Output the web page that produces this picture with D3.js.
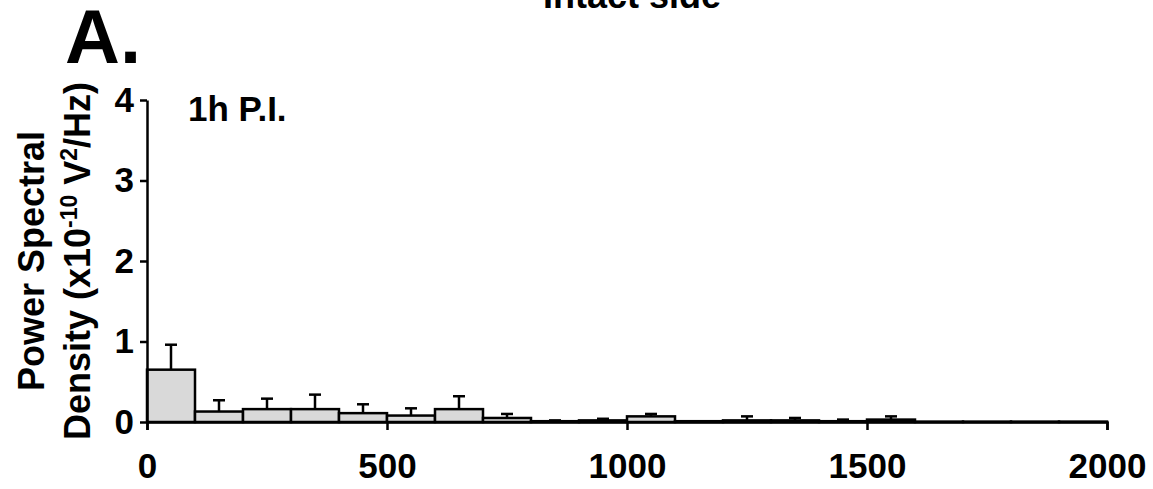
<!DOCTYPE html>
<html><head><meta charset="utf-8">
<script src="https://cdn.jsdelivr.net/npm/d3@7"></script>
<style>body{margin:0;background:#fff}svg{display:block}text{font-family:"Liberation Sans",Arial,sans-serif;font-weight:bold;fill:#000}</style>
</head><body><svg id="c" width="1153" height="489"></svg>
<script>
const binStart = [0,100,200,300,400,500,600,700,800,900,1000,1100,1200,1300,1400,1500,1600,1700,1800,1900];
const binWidth = 100;
const meanPSD = [0.65,0.13,0.16,0.16,0.11,0.08,0.16,0.05,0.01,0.02,0.07,0.01,0.02,0.02,0.01,0.03,0.005,0.005,0.005,0.005];
const semPSD  = [0.31,0.14,0.13,0.18,0.11,0.09,0.16,0.05,0.01,0.02,0.03,0.0,0.05,0.03,0.02,0.04,0,0,0,0];
const xTicks = [0,500,1000,1500,2000];
const yTicks = [0,1,2,3,4];

const svg = d3.select("#c");
const x = d3.scaleLinear().domain([0,2000]).range([147,1107]);
const y = d3.scaleLinear().domain([0,4]).range([422,100]);

// bars
svg.append("g").selectAll("rect").data(binStart).join("rect")
  .attr("x", d=>x(d)).attr("width", d=>x(d+binWidth)-x(d))
  .attr("y", (d,i)=>y(meanPSD[i])).attr("height",(d,i)=>y(0)-y(meanPSD[i]))
  .attr("fill","#d9d9d9").attr("stroke","#000").attr("stroke-width",2.5);

// error bars
const eg = svg.append("g").attr("stroke","#000").attr("stroke-width",2.5);
binStart.forEach((d,i)=>{
  if(semPSD[i]<=0) return;
  const cx = x(d+binWidth/2);
  eg.append("line").attr("x1",cx).attr("x2",cx).attr("y1",y(meanPSD[i])).attr("y2",y(meanPSD[i]+semPSD[i]));
  eg.append("line").attr("x1",cx-6).attr("x2",cx+6).attr("y1",y(meanPSD[i]+semPSD[i])).attr("y2",y(meanPSD[i]+semPSD[i]));
});

// axes
const xa = svg.append("g").attr("transform","translate(0,422)")
  .call(d3.axisBottom(x).tickValues(xTicks).tickSize(8).tickSizeOuter(8).tickPadding(23).tickFormat(d3.format("d")));
const ya = svg.append("g").attr("transform","translate(147,0)")
  .call(d3.axisLeft(y).tickValues(yTicks).tickSize(7).tickSizeOuter(0).tickPadding(6).tickFormat(d3.format("d")));
[xa,ya].forEach(a=>{
  a.selectAll("path,line").attr("stroke","#000").attr("stroke-width",2.5);
  a.selectAll("text").style("font-size","35px").style("font-family",'"Liberation Sans",Arial,sans-serif').style("font-weight","bold");
});

// title (clipped at top)
svg.append("text").attr("x",632).attr("y",8).attr("text-anchor","middle").style("font-size","36px").text("Intact side");
svg.append("text").attr("x",65).attr("y",63).style("font-size","76px").text("A.");
svg.append("text").attr("x",188).attr("y",121).style("font-size","35px").text("1h P.I.");

// y label
const yl = svg.append("g").attr("transform","translate(0,261) rotate(-90)");
yl.append("text").attr("x",0).attr("y",44).attr("text-anchor","middle").style("font-size","36px").text("Power Spectral");
const t2 = yl.append("text").attr("x",0).attr("y",90).attr("text-anchor","middle").style("font-size","36px");
t2.append("tspan").text("Density (x10");
t2.append("tspan").attr("dy",-13).style("font-size","23px").text("-10");
t2.append("tspan").attr("dy",13).text(" V");
t2.append("tspan").attr("dy",-13).style("font-size","23px").text("2");
t2.append("tspan").attr("dy",13).text("/Hz)");
</script></body></html>
